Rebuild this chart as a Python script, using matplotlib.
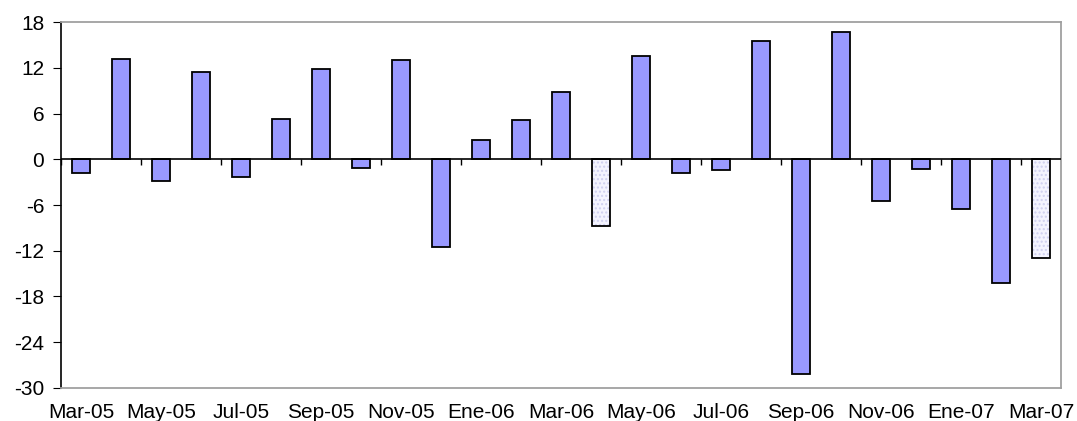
import matplotlib.pyplot as plt
import numpy as np

plt.rcParams['font.family'] = ['Liberation Sans', 'DejaVu Sans']
plt.rcParams['axes.unicode_minus'] = False

# meses (Mar-05 a Mar-07)
meses = ['Mar-05', 'Abr-05', 'May-05', 'Jun-05', 'Jul-05', 'Ago-05', 'Sep-05', 'Oct-05',
         'Nov-05', 'Dic-05', 'Ene-06', 'Feb-06', 'Mar-06', 'Abr-06', 'May-06', 'Jun-06',
         'Jul-06', 'Ago-06', 'Sep-06', 'Oct-06', 'Nov-06', 'Dic-06', 'Ene-07', 'Feb-07', 'Mar-07']
valores = [-1.75, 13.2, -2.85, 11.5, -2.3, 5.3, 11.85, -1.2, 13.0, -11.5, 2.5, 5.2, 8.8,
           -8.8, 13.5, -1.8, -1.4, 15.5, -28.2, 16.7, -5.5, -1.3, -6.5, -16.2, -12.9]
# barras con trama punteada
punteadas = [13, 24]

x = np.arange(len(meses))
fig = plt.figure(figsize=(10.77, 4.21), dpi=100)
ax = fig.add_axes([0.0566, 0.0784, 0.9285, 0.8693])

normales = [i for i in x if i not in punteadas]
ax.bar(normales, [valores[i] for i in normales], width=0.45,
       color='#9999FF', edgecolor='black', linewidth=1.3, zorder=3)
ax.bar(punteadas, [valores[i] for i in punteadas], width=0.45,
       color='#F4F4FF', edgecolor='#D0D0F0', hatch='....', linewidth=0, zorder=3)
ax.bar(punteadas, [valores[i] for i in punteadas], width=0.45,
       fill=False, edgecolor='black', linewidth=1.3, zorder=4)

ax.set_xlim(-0.5, len(meses) - 0.5)
ax.set_ylim(-30, 18)
ax.set_yticks(np.arange(-30, 19, 6))
ax.tick_params(axis='y', direction='out', length=6, labelsize=15, pad=6)

ax.set_xticks(x[::2], meses[::2])
ax.tick_params(axis='x', length=0, labelsize=15, pad=11)

ax.axhline(0, color='black', linewidth=1.2, zorder=5)

# marcas del eje en la linea de cero
sec = ax.secondary_xaxis(30 / 48)
sec.set_xticks(np.arange(-0.5, len(meses), 2))
sec.tick_params(direction='out', length=4, width=1, labelbottom=False, labeltop=False,
                bottom=True, top=False)
sec.spines['bottom'].set_visible(False)
sec.spines['top'].set_visible(False)

for lado in ['top', 'right', 'bottom']:
    ax.spines[lado].set_color('#A0A0A0')
    ax.spines[lado].set_linewidth(1.3)
ax.spines['left'].set_color('black')
ax.spines['left'].set_linewidth(1.2)

fig.savefig('out.png', dpi=100)
